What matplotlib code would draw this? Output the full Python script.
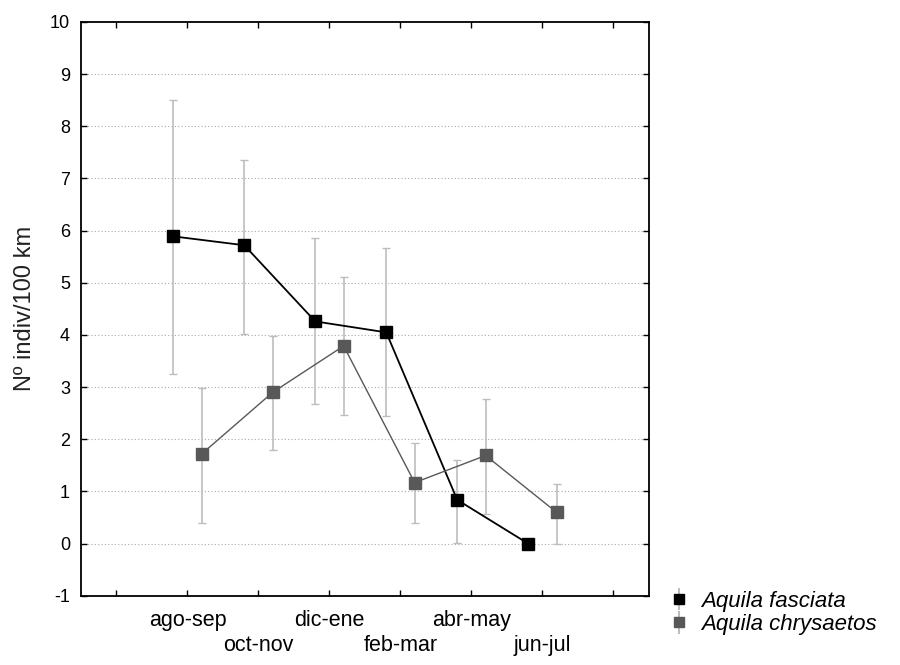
import numpy as np
import matplotlib.pyplot as plt

periods = ["ago-sep", "oct-nov", "dic-ene", "feb-mar", "abr-may", "jun-jul"]

fasciata = [5.89, 5.72, 4.26, 4.05, 0.84, 0.0]
fasciata_lo = [3.26, 4.02, 2.67, 2.44, 0.02, 0.0]
fasciata_hi = [8.50, 7.35, 5.86, 5.66, 1.61, 0.0]

chrysaetos = [1.72, 2.90, 3.79, 1.17, 1.69, 0.60]
chrysaetos_lo = [0.40, 1.80, 2.46, 0.40, 0.57, 0.0]
chrysaetos_hi = [2.98, 3.99, 5.11, 1.92, 2.77, 1.14]

plt.rcParams['font.family'] = ['Liberation Sans', 'DejaVu Sans']
plt.rcParams['axes.unicode_minus'] = False

fig = plt.figure(figsize=(9, 6.65), dpi=100)
ax = fig.add_axes([0.09, 0.104, 0.631, 0.863])

x = np.arange(1, len(periods) + 1)

def draw(xpos, vals, lo, hi, color, lw, label):
    vals = np.array(vals)
    err = [vals - np.array(lo), np.array(hi) - vals]
    ax.errorbar(xpos, vals, yerr=err, fmt="none", ecolor="#bdbdbd",
                elinewidth=1.2, capsize=3, capthick=1, zorder=2)
    ax.plot(xpos, vals, color=color, lw=lw, marker="s", markersize=9,
            markerfacecolor=color, markeredgecolor=color, zorder=3)
    return ax.errorbar([], [], yerr=[], fmt="s", color=color, ecolor="#bdbdbd",
                       markersize=7, capsize=5, label=label)

h1 = draw(x - 0.2, fasciata, fasciata_lo, fasciata_hi, "black", 1.3, "Aquila fasciata")
h2 = draw(x + 0.2, chrysaetos, chrysaetos_lo, chrysaetos_hi, "#585858", 1.0, "Aquila chrysaetos")

ax.set_xlim(-0.5, 7.5)
ax.set_ylim(-1, 10)

# staggered labels: first row on major ticks, second row on minor ticks
ax.xaxis.remove_overlapping_locs = False
ax.set_xticks(range(0, 8))
ax.set_xticklabels([""] + [p if i % 2 == 0 else "" for i, p in enumerate(periods)] + [""],
                   fontsize=15.5)
ax.set_xticks(x[1::2], minor=True)
ax.set_xticklabels(periods[1::2], minor=True, fontsize=15.5)
ax.tick_params(axis="x", which="major", pad=10)
ax.tick_params(axis="x", which="minor", length=0, pad=28)

ax.set_yticks(range(-1, 11))
ax.tick_params(axis="y", labelsize=13, pad=8)
ax.tick_params(which="major", direction="in", length=4, top=True, right=True, width=1)

for yv in range(0, 10):
    ax.axhline(yv, color="#aaaaaa", lw=0.8, ls=(0, (1, 2)), zorder=1)

for s in ax.spines.values():
    s.set_linewidth(1.3)

ax.set_ylabel("Nº indiv/100 km", fontsize=17, labelpad=10, color="#222222")

fig.legend(handles=[h1, h2], loc="upper left", bbox_to_anchor=(0.727, 0.128),
           frameon=False, prop={"style": "italic", "size": 16},
           handlelength=1.2, handletextpad=0.4, labelspacing=0.1, borderpad=0)

fig.savefig("out.png", dpi=100)
